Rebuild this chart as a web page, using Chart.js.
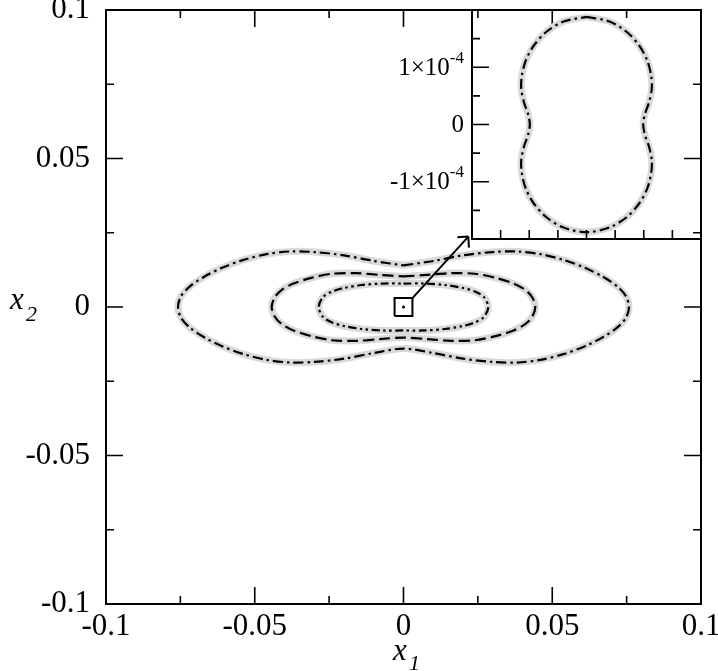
<!DOCTYPE html>
<html>
<head>
<meta charset="utf-8">
<script src="https://cdn.jsdelivr.net/npm/chart.js@4/dist/chart.umd.min.js"></script>
<style>
  html, body { margin: 0; padding: 0; background: #fff; }
  #wrap  { position: relative; width: 718px; height: 671px; }
  #main  { position: absolute; left: 0; top: 0; }
  #inset { position: absolute; left: 380px; top: 0; }
</style>
</head>
<body>
<div id="wrap">
  <canvas id="main" width="718" height="671"></canvas>
  <canvas id="inset" width="338" height="262"></canvas>
</div>
<script>
// ── Data ──────────────────────────────────────────────────────────────────

const mainTicks      = [-0.1, -0.05, 0, 0.05, 0.1];
const mainTickLabels = ['-0.1', '-0.05', '0', '0.05', '0.1'];
const mainMinorTicks = [-0.075, -0.025, 0.025, 0.075];

// outer contour (dash-dot)
const outerCurve = [
  [0, 0.0140], [0.010, 0.0155], [0.020, 0.0174], [0.030, 0.0185], [0.038, 0.0187], [0.046, 0.0178],
  [0.054, 0.0158], [0.061, 0.0132], [0.067, 0.0102], [0.0720, 0.0068], [0.0748, 0.0036], [0.0758, 0],
  [0.0748, -0.0036], [0.0720, -0.0068], [0.067, -0.0102], [0.061, -0.0132], [0.054, -0.0158], [0.046, -0.0178],
  [0.038, -0.0187], [0.030, -0.0185], [0.020, -0.0174], [0.010, -0.0155], [0, -0.0140],
  [-0.010, -0.0155], [-0.020, -0.0174], [-0.030, -0.0185], [-0.038, -0.0187], [-0.046, -0.0178],
  [-0.054, -0.0158], [-0.061, -0.0132], [-0.067, -0.0102], [-0.0720, -0.0068], [-0.0748, -0.0036], [-0.0758, 0],
  [-0.0748, 0.0036], [-0.0720, 0.0068], [-0.067, 0.0102], [-0.061, 0.0132], [-0.054, 0.0158], [-0.046, 0.0178],
  [-0.038, 0.0187], [-0.030, 0.0185], [-0.020, 0.0174], [-0.010, 0.0155], [0, 0.0140]
];

// middle contour (dashed)
const middleCurve = [
  [0, 0.0103], [0.008, 0.0108], [0.016, 0.0114], [0.024, 0.0112], [0.031, 0.0098], [0.037, 0.0079],
  [0.041, 0.0057], [0.0433, 0.0032], [0.0443, 0],
  [0.0433, -0.0032], [0.041, -0.0057], [0.037, -0.0079], [0.031, -0.0098], [0.024, -0.0112], [0.016, -0.0114],
  [0.008, -0.0108], [0, -0.0103],
  [-0.008, -0.0108], [-0.016, -0.0114], [-0.024, -0.0112], [-0.031, -0.0098], [-0.037, -0.0079],
  [-0.041, -0.0057], [-0.0433, -0.0032], [-0.0443, 0],
  [-0.0433, 0.0032], [-0.041, 0.0057], [-0.037, 0.0079], [-0.031, 0.0098], [-0.024, 0.0112], [-0.016, 0.0114],
  [-0.008, 0.0108], [0, 0.0103]
];

// inner contour (dash-dot-dot)
const innerCurve = [
  [0, 0.0079], [0.007, 0.0079], [0.014, 0.0074], [0.020, 0.0064], [0.024, 0.0052], [0.027, 0.0034], [0.0285, 0],
  [0.027, -0.0034], [0.024, -0.0052], [0.020, -0.0064], [0.014, -0.0074], [0.007, -0.0079], [0, -0.0079],
  [-0.007, -0.0079], [-0.014, -0.0074], [-0.020, -0.0064], [-0.024, -0.0052], [-0.027, -0.0034], [-0.0285, 0],
  [-0.027, 0.0034], [-0.024, 0.0052], [-0.020, 0.0064], [-0.014, 0.0074], [-0.007, 0.0079], [0, 0.0079]
];

const zoomBox   = [[-0.003, -0.003], [0.003, -0.003], [0.003, 0.003], [-0.003, 0.003], [-0.003, -0.003]];
const zoomDot   = [[0, 0]];
const arrowLine = [[0.003, 0.003], [0.0218, 0.0237]];

// inset (x10^-4 region around the origin)
const insetRange      = [-2e-4, 2e-4];
const insetYTicks     = [-1e-4, 0, 1e-4];
const insetYMinor     = [-1.5e-4, -0.5e-4, 0.5e-4, 1.5e-4];
const insetXTicks     = [-1.5e-4, -1e-4, -0.5e-4, 0, 0.5e-4, 1e-4, 1.5e-4];
const insetYLabels    = [['-1\u00d710', '-4'], ['0', ''], ['1\u00d710', '-4']];

const insetCurve = [
  [0, 1.88e-4], [0.40e-4, 1.80e-4], [0.70e-4, 1.62e-4], [0.92e-4, 1.38e-4], [1.06e-4, 1.12e-4],
  [1.13e-4, 0.85e-4], [1.14e-4, 0.62e-4], [1.09e-4, 0.38e-4], [1.02e-4, 0.18e-4], [0.99e-4, 0],
  [1.02e-4, -0.18e-4], [1.09e-4, -0.38e-4], [1.14e-4, -0.62e-4], [1.13e-4, -0.85e-4], [1.06e-4, -1.12e-4],
  [0.92e-4, -1.38e-4], [0.70e-4, -1.62e-4], [0.40e-4, -1.80e-4], [0, -1.88e-4],
  [-0.40e-4, -1.80e-4], [-0.70e-4, -1.62e-4], [-0.92e-4, -1.38e-4], [-1.06e-4, -1.12e-4], [-1.13e-4, -0.85e-4],
  [-1.14e-4, -0.62e-4], [-1.09e-4, -0.38e-4], [-1.02e-4, -0.18e-4], [-0.99e-4, 0],
  [-1.02e-4, 0.18e-4], [-1.09e-4, 0.38e-4], [-1.14e-4, 0.62e-4], [-1.13e-4, 0.85e-4], [-1.06e-4, 1.12e-4],
  [-0.92e-4, 1.38e-4], [-0.70e-4, 1.62e-4], [-0.40e-4, 1.80e-4], [0, 1.88e-4]
];

// ── Helpers ───────────────────────────────────────────────────────────────

const SERIF = "'Liberation Serif', 'DejaVu Serif', serif";
const GREY  = '#d9d9d9';
const pts   = arr => arr.map(p => ({ x: p[0], y: p[1] }));

function curvePair(arr, dash) {
  return [
    { data: pts(arr), showLine: true, borderColor: '#000', borderWidth: 2.2, borderDash: dash,
      pointRadius: 0, tension: 0.3, order: 0 },
    { data: pts(arr), showLine: true, borderColor: GREY, borderWidth: 7,
      pointRadius: 0, tension: 0.3, order: 5 },
  ];
}

const dashDot    = [10, 4, 2.5, 4];
const dashed     = [11, 5];
const dashDotDot = [8, 3.5, 2.5, 3.5, 2.5, 3.5];

// no extra room for half-labels at the ends of the axes
function noEdgePad(s) {
  s.paddingTop = 0; s.paddingBottom = 0; s.paddingLeft = 0; s.paddingRight = 0;
}

// ── Main chart ────────────────────────────────────────────────────────────

const mainDecor = {
  id: 'mainDecor',
  afterDatasetsDraw(chart) {
    const { ctx, chartArea: a, scales: { x, y } } = chart;
    ctx.save();
    ctx.strokeStyle = '#000';

    // inward ticks on all four sides
    ctx.lineWidth = 1.6;
    ctx.beginPath();
    const tick = (vals, len) => vals.forEach(v => {
      const px = x.getPixelForValue(v), py = y.getPixelForValue(v);
      ctx.moveTo(px, a.bottom); ctx.lineTo(px, a.bottom - len);
      ctx.moveTo(px, a.top);    ctx.lineTo(px, a.top + len);
      ctx.moveTo(a.left, py);   ctx.lineTo(a.left + len, py);
      ctx.moveTo(a.right, py);  ctx.lineTo(a.right - len, py);
    });
    tick(mainTicks, 17);
    tick(mainMinorTicks, 8);
    ctx.stroke();

    // frame
    ctx.lineWidth = 2;
    ctx.strokeRect(a.left, a.top, a.right - a.left, a.bottom - a.top);

    // arrow head on the pointer line
    const meta = chart.getDatasetMeta(chart.data.datasets.findIndex(d => d.isArrow));
    const p0 = meta.data[0], p1 = meta.data[1];
    const ang = Math.atan2(p1.y - p0.y, p1.x - p0.x);
    ctx.lineWidth = 2;
    ctx.beginPath();
    [Math.PI * 0.75, -Math.PI * 0.75].forEach(d => {
      ctx.moveTo(p1.x, p1.y);
      ctx.lineTo(p1.x + 11 * Math.cos(ang + d), p1.y + 11 * Math.sin(ang + d));
    });
    ctx.stroke();

    // axis titles
    ctx.fillStyle = '#000';
    ctx.textBaseline = 'alphabetic';
    ctx.textAlign = 'left';
    ctx.font = `italic 31px ${SERIF}`;
    ctx.fillText('x', 393, 660);
    ctx.fillText('x', 10, 309);
    ctx.font = `italic 22px ${SERIF}`;
    ctx.fillText('1', 409, 670);
    ctx.fillText('2', 26, 321);
    ctx.restore();
  }
};

const tickFont = { family: SERIF, size: 31 };

new Chart(document.getElementById('main'), {
  type: 'scatter',
  data: {
    datasets: [
      ...curvePair(outerCurve, dashDot),
      ...curvePair(middleCurve, dashed),
      ...curvePair(innerCurve, dashDotDot),
      { data: pts(zoomBox), showLine: true, borderColor: '#000', borderWidth: 2, pointRadius: 0, tension: 0, order: 0 },
      { data: pts(zoomDot), pointRadius: 1.5, backgroundColor: '#000', borderWidth: 0, order: 0 },
      { data: pts(arrowLine), isArrow: true, showLine: true, borderColor: '#000', borderWidth: 2, pointRadius: 0, tension: 0, order: 0 },
    ]
  },
  options: {
    responsive: false,
    animation: false,
    events: [],
    layout: { padding: { top: 10, right: 17, left: 0, bottom: 0 } },
    plugins: { legend: { display: false }, tooltip: { enabled: false } },
    scales: {
      x: {
        type: 'linear', min: -0.1, max: 0.1,
        afterBuildTicks: s => { s.ticks = mainTicks.map(v => ({ value: v })); },
        afterFit: s => { s.height = 67; noEdgePad(s); },
        ticks: { font: tickFont, color: '#000', padding: -4, autoSkip: false, maxRotation: 0,
                 callback: (v, i) => mainTickLabels[i] },
        grid: { display: false }, border: { display: false },
      },
      y: {
        type: 'linear', min: -0.1, max: 0.1,
        afterBuildTicks: s => { s.ticks = mainTicks.map(v => ({ value: v })); },
        afterFit: s => { s.width = 106; noEdgePad(s); },
        ticks: { font: tickFont, color: '#000', padding: 8, autoSkip: false,
                 callback: (v, i) => mainTickLabels[i] },
        grid: { display: false }, border: { display: false },
      },
    },
  },
  plugins: [mainDecor],
});

// ── Inset chart ───────────────────────────────────────────────────────────

const insetDecor = {
  id: 'insetDecor',
  afterDatasetsDraw(chart) {
    const { ctx, chartArea: a, scales: { x, y } } = chart;
    ctx.save();
    ctx.strokeStyle = '#000';
    ctx.lineWidth = 1.6;
    ctx.beginPath();
    insetYTicks.forEach(v => { const py = y.getPixelForValue(v); ctx.moveTo(a.left, py); ctx.lineTo(a.left + 17, py); });
    insetYMinor.forEach(v => { const py = y.getPixelForValue(v); ctx.moveTo(a.left, py); ctx.lineTo(a.left + 8, py); });
    insetXTicks.forEach(v => { const px = x.getPixelForValue(v); ctx.moveTo(px, a.bottom); ctx.lineTo(px, a.bottom - 9); });
    ctx.stroke();
    ctx.lineWidth = 2;
    ctx.strokeRect(a.left, a.top, a.right - a.left, a.bottom - a.top);

    // y labels with exponents
    ctx.fillStyle = '#000';
    ctx.textAlign = 'left';
    ctx.textBaseline = 'middle';
    insetYTicks.forEach((v, i) => {
      const [base, sup] = insetYLabels[i];
      ctx.font = `25px ${SERIF}`;
      const wb = ctx.measureText(base).width;
      ctx.font = `17px ${SERIF}`;
      const ws = sup ? ctx.measureText(sup).width : 0;
      const right = a.left - 8;
      const py = y.getPixelForValue(v) + 1;
      ctx.font = `25px ${SERIF}`;
      ctx.fillText(base, right - wb - ws, py);
      if (sup) {
        ctx.font = `17px ${SERIF}`;
        ctx.fillText(sup, right - ws, py - 10);
      }
    });
    ctx.restore();
  }
};

new Chart(document.getElementById('inset'), {
  type: 'scatter',
  data: { datasets: curvePair(insetCurve, dashDot) },
  options: {
    responsive: false,
    animation: false,
    events: [],
    layout: { padding: { top: 10, right: 17, left: 92, bottom: 23 } },
    plugins: { legend: { display: false }, tooltip: { enabled: false } },
    scales: {
      x: { type: 'linear', min: insetRange[0], max: insetRange[1], display: false },
      y: { type: 'linear', min: insetRange[0], max: insetRange[1], display: false },
    },
  },
  plugins: [insetDecor],
});
</script>
</body>
</html>
